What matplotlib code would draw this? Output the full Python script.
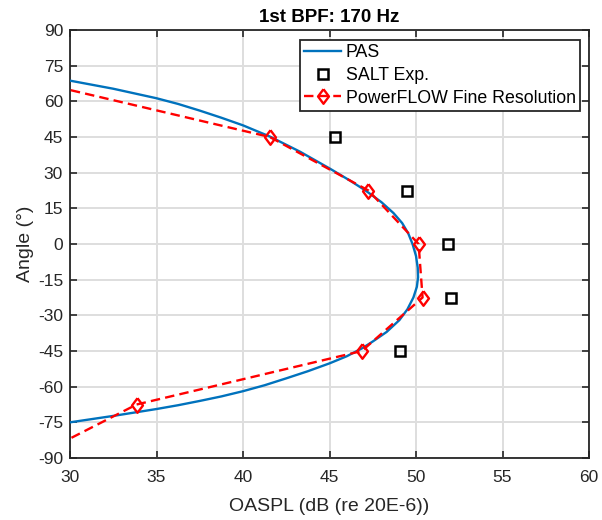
import numpy as np
import matplotlib
matplotlib.use("Agg")
import matplotlib.pyplot as plt

plt.rcParams["font.family"] = ["Liberation Sans", "DejaVu Sans"]
plt.rcParams["axes.unicode_minus"] = False

# PAS prediction (OASPL in dB, angle in deg)
pas_oaspl = [28.5, 30.0, 32.5, 35.0, 36.25, 37.5, 38.75, 40.0, 41.55, 43.3, 45.0,
             46.2, 47.1, 48.0, 48.7, 49.2, 49.55, 49.8, 50.0, 50.1, 50.12, 50.05,
             49.85, 49.5, 49.04, 48.3, 47.5, 46.9, 46.0, 45.0, 43.75, 42.5, 41.25,
             40.0, 38.75, 37.5, 36.25, 35.0, 32.5, 30.0, 28.5]
pas_angle = [70.7, 68.7, 65.3, 61.3, 58.9, 56.1, 53.1, 49.9, 45.2, 38.8, 31.8,
             26.6, 22.4, 17.6, 13.0, 8.8, 4.5, 0.0, -5.0, -10.0, -14.0, -18.0,
             -22.5, -27.5, -32.0, -37.0, -41.0, -43.8, -47.2, -50.2, -53.5, -56.5, -59.4,
             -61.9, -64.1, -66.0, -67.8, -69.4, -72.3, -75.0, -76.6]

# SALT experiment
salt_oaspl = [45.3, 49.5, 51.85, 52.0, 49.1]
salt_angle = [45, 22.5, 0, -22.5, -45]

# PowerFLOW fine resolution
pf_oaspl = [28.4, 41.55, 47.25, 50.15, 50.38, 46.87, 33.85, 27.8]
pf_angle = [67.5, 45, 22.5, 0, -22.5, -45, -67.5, -90]

xticks = np.arange(30, 61, 5)
yticks = np.arange(-90, 91, 15)

dark = "#262626"
diamond = [(0, 1), (0.75, 0), (0, -1), (-0.75, 0), (0, 1)]

fig = plt.figure(figsize=(6.02, 5.2), dpi=100)
ax = fig.add_axes([70 / 602, 62 / 520, 519 / 602, 428 / 520])

ax.plot(pas_oaspl, pas_angle, color="#0072BD", lw=1.7, label="PAS", zorder=3)
ax.plot(salt_oaspl, salt_angle, ls="none", marker="s", ms=7.5, mfc="none",
        mec="black", mew=1.8, label="SALT Exp.", zorder=4)
ax.plot(pf_oaspl, pf_angle, color="red", lw=1.7, dashes=(4, 2.2), marker=diamond,
        ms=10.5, mfc="none", mec="red", mew=1.7,
        label="PowerFLOW Fine Resolution", zorder=4)

ax.set_xlim(30, 60)
ax.set_ylim(-90, 90)
ax.set_xticks(xticks)
ax.set_yticks(yticks)
ax.grid(True, color="#dedede", lw=1.4)
ax.set_axisbelow(True)

ax.tick_params(direction="in", top=True, right=True, length=5, width=1.2,
               color=dark, labelcolor=dark, labelsize=12.5)
ax.tick_params(axis="x", pad=9)
ax.tick_params(axis="y", pad=5)
for s in ax.spines.values():
    s.set_color(dark)
    s.set_linewidth(1.3)

ax.set_xlabel("OASPL (dB (re 20E-6))", fontsize=14, color=dark, labelpad=9)
ax.set_ylabel("Angle (°)", fontsize=14, color=dark, labelpad=3)
ax.set_title("1st BPF: 170 Hz", fontsize=13.5, fontweight="bold", color="black", pad=6)

leg = ax.legend(loc="upper right", bbox_to_anchor=(0.983, 0.977), borderaxespad=0,
                fontsize=12.8, fancybox=False, framealpha=1, edgecolor=dark,
                handlelength=2.1, handletextpad=0.25, labelspacing=0.32,
                borderpad=0.25)
leg.get_frame().set_linewidth(1.3)

fig.savefig("out.png", dpi=100)
